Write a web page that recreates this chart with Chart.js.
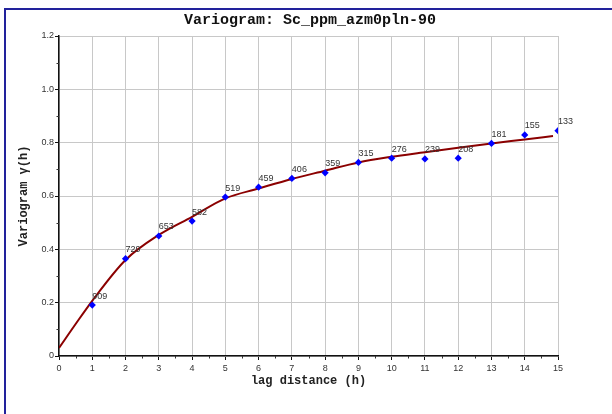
<!DOCTYPE html>
<html>
<head>
<meta charset="utf-8">
<script src="https://cdn.jsdelivr.net/npm/chart.js@4.4.1/dist/chart.umd.min.js"></script>
<style>
  html, body { margin: 0; padding: 0; background: #ffffff; overflow: hidden; }
  #wrap { position: relative; width: 612px; height: 414px; }
  #frame { position: absolute; left: 4px; top: 8px; width: 700px; height: 500px;
           border-left: 2px solid #22229c; border-top: 2px solid #22229c; pointer-events: none; }
  canvas { position: absolute; left: 0; top: 0; }
</style>
</head>
<body>
<div id="wrap">
  <canvas id="c" width="612" height="414"></canvas>
  <div id="frame"></div>
</div>
<script>
// Experimental variogram points
const lags = [1, 2, 3, 4, 5, 6, 7, 8, 9, 10, 11, 12, 13, 14, 15];
const gamma = [0.191, 0.365, 0.450, 0.506, 0.596, 0.633, 0.666, 0.687, 0.726, 0.742, 0.739, 0.742, 0.797, 0.829, 0.845];
const pairs = [909, 729, 653, 582, 519, 459, 406, 359, 315, 276, 239, 208, 181, 155, 133];

// Fitted model curve
const modelLags = [0, 0.5, 1, 2, 3, 4, 5, 6, 7, 8, 9, 10, 11, 12, 13, 14, 14.85];
const modelGamma = [0.030, 0.120, 0.207, 0.360, 0.454, 0.522, 0.591, 0.628, 0.664, 0.695, 0.726, 0.747, 0.764, 0.781, 0.797, 0.812, 0.825];

const xTickValues = [0, 1, 2, 3, 4, 5, 6, 7, 8, 9, 10, 11, 12, 13, 14, 15];
const yTickValues = [0, 0.2, 0.4, 0.6, 0.8, 1.0, 1.2];
const xMinorTicks = [0.5, 1.5, 2.5, 3.5, 4.5, 5.5, 6.5, 7.5, 8.5, 9.5, 10.5, 11.5, 12.5, 13.5, 14.5];
const yMinorTicks = [0.1, 0.3, 0.5, 0.7, 0.9, 1.1];

const titleText = 'Variogram: Sc_ppm_azm0pln-90';
const xTitle = 'lag distance (h)';
const yTitle = 'Variogram \u03b3(h)';

const minorTickPlugin = {
  id: 'minorTicks',
  afterDraw(chart) {
    const ctx = chart.ctx;
    const xs = chart.scales.x, ys = chart.scales.y;
    const area = chart.chartArea;
    ctx.save();
    ctx.strokeStyle = '#333';
    ctx.lineWidth = 1;
    ctx.beginPath();
    xMinorTicks.forEach(v => {
      const px = Math.round(xs.getPixelForValue(v)) + 0.5;
      ctx.moveTo(px, area.bottom);
      ctx.lineTo(px, area.bottom + 2.5);
    });
    yMinorTicks.forEach(v => {
      const py = Math.round(ys.getPixelForValue(v)) + 0.5;
      ctx.moveTo(area.left, py);
      ctx.lineTo(area.left - 2.5, py);
    });
    ctx.stroke();
    ctx.restore();
  }
};

const mainTitlePlugin = {
  id: 'mainTitle',
  afterDraw(chart) {
    const ctx = chart.ctx;
    ctx.save();
    ctx.font = 'bold 15px "Liberation Mono", "Courier New", monospace';
    ctx.fillStyle = '#111';
    ctx.textAlign = 'center';
    ctx.textBaseline = 'middle';
    ctx.fillText(titleText, 310, 20);
    ctx.restore();
  }
};

const pairLabelPlugin = {
  id: 'pairLabels',
  afterDatasetsDraw(chart) {
    const meta = chart.getDatasetMeta(0);
    const ctx = chart.ctx;
    ctx.save();
    ctx.font = '9px "Liberation Sans", Arial, sans-serif';
    ctx.fillStyle = '#333';
    ctx.textAlign = 'left';
    ctx.textBaseline = 'middle';
    meta.data.forEach((el, i) => {
      ctx.fillText(String(pairs[i]), el.x, el.y - 9);
    });
    ctx.restore();
  }
};

new Chart(document.getElementById('c'), {
  type: 'scatter',
  data: {
    datasets: [
      {
        label: 'experimental',
        data: lags.map((x, i) => ({ x: x, y: gamma[i] })),
        showLine: false,
        pointStyle: 'rectRot',
        pointRadius: 3.6,
        backgroundColor: '#0000ff',
        borderColor: '#0000ff',
        borderWidth: 0,
        order: 0
      },
      {
        label: 'model',
        data: modelLags.map((x, i) => ({ x: x, y: modelGamma[i] })),
        showLine: true,
        borderColor: '#8b0000',
        borderWidth: 2,
        pointRadius: 0,
        cubicInterpolationMode: 'monotone',
        fill: false,
        order: 1
      }
    ]
  },
  options: {
    responsive: false,
    animation: false,
    devicePixelRatio: 1,
    layout: { padding: { left: 0, right: 54, top: 36, bottom: 0 } },
    plugins: {
      legend: { display: false },
      tooltip: { enabled: false },
      title: { display: false }
    },
    scales: {
      x: {
        type: 'linear',
        min: 0,
        max: 15,
        afterFit(scale) { scale.height = 58; },
        afterBuildTicks(scale) { scale.ticks = xTickValues.map(v => ({ value: v })); },
        ticks: {
          autoSkip: false,
          maxRotation: 0,
          padding: 3,
          color: '#333',
          font: { family: '"Liberation Sans", Arial, sans-serif', size: 9 },
          callback: v => String(v)
        },
        grid: { color: '#c8c8c8', lineWidth: 1, tickLength: 4, tickColor: '#111' },
        border: { display: true, color: '#111', width: 1.5 },
        title: {
          display: true,
          text: xTitle,
          color: '#222',
          font: { family: '"Liberation Mono", "Courier New", monospace', size: 12, weight: 'bold', lineHeight: 1.2 },
          padding: { top: 0, bottom: 26 }
        }
      },
      y: {
        type: 'linear',
        min: 0,
        max: 1.2,
        afterFit(scale) { scale.width = 59; },
        afterBuildTicks(scale) { scale.ticks = yTickValues.map(v => ({ value: v })); },
        ticks: {
          autoSkip: false,
          padding: 1,
          color: '#333',
          font: { family: '"Liberation Sans", Arial, sans-serif', size: 9 },
          callback: v => (v === 0 ? '0' : Number(v).toFixed(1))
        },
        grid: { color: '#c8c8c8', lineWidth: 1, tickLength: 4, tickColor: '#111' },
        border: { display: true, color: '#111', width: 1.5 },
        title: {
          display: true,
          text: yTitle,
          color: '#222',
          font: { family: '"Liberation Mono", "Courier New", monospace', size: 12, weight: 'bold', lineHeight: 1.2 },
          padding: { top: 17, bottom: 0 }
        }
      }
    }
  },
  plugins: [minorTickPlugin, pairLabelPlugin, mainTitlePlugin]
});
</script>
</body>
</html>
